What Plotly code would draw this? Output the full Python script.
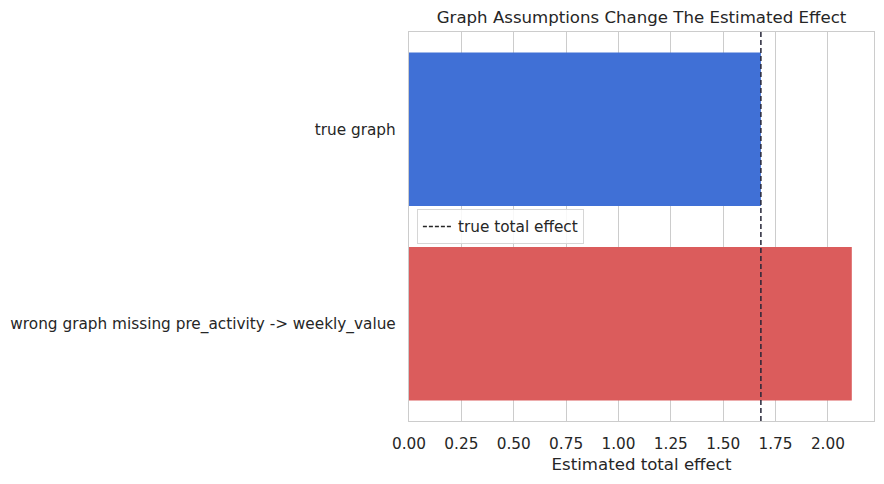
import plotly.graph_objects as go

# Estimated effects under each graph assumption
graphs = ["true graph", "wrong graph missing pre_activity -> weekly_value"]
effects = [1.68, 2.114]
bar_colors = ["#4070d6", "#db5c5c"]
true_effect = 1.68

fig = go.Figure()

fig.add_trace(
    go.Bar(
        x=effects,
        y=graphs,
        orientation="h",
        marker=dict(color=bar_colors, line=dict(width=0)),
        width=0.79,
        showlegend=False,
    )
)

# dummy trace so the dashed reference line gets a legend entry
fig.add_trace(
    go.Scatter(
        x=[None], y=[None],
        mode="lines",
        line=dict(color="#262626", width=1.5, dash="4px,2px"),
        name="true total effect",
    )
)

fig.add_shape(
    type="line",
    x0=true_effect, x1=true_effect,
    y0=0, y1=1, yref="paper",
    line=dict(color="#262638", width=1.5, dash="5px,3px"),
)

# page body adds an 8px offset, so the figure is 8px smaller each way
fig.update_layout(
    width=876,
    height=476,
    margin=dict(l=401, r=10, t=24, b=63),
    paper_bgcolor="white",
    plot_bgcolor="white",
    font=dict(family="DejaVu Sans", size=15.3, color="#262626"),
    title=dict(
        text="Graph Assumptions Change The Estimated Effect",
        x=(401 + 866) / 2 / 876,
        xanchor="center",
        y=1 - 9 / 476,
        yanchor="middle",
        font=dict(size=16.6),
    ),
    legend=dict(
        x=0.017, y=0.545,
        xanchor="left", yanchor="top",
        bgcolor="rgba(255,255,255,0.85)",
        bordercolor="#d6d6d6",
        borderwidth=1,
        font=dict(size=15.3),
    ),
    bargap=0.2,
)

fig.update_xaxes(
    range=[0, 2.22],
    dtick=0.25,
    tick0=0,
    tickformat=".2f",
    showgrid=True,
    gridcolor="#cccccc",
    gridwidth=1,
    zeroline=False,
    showline=True,
    linecolor="#cccccc",
    linewidth=1.3,
    mirror=True,
    ticks="",
    automargin=False,
    ticklabelstandoff=8,
    title=dict(text="Estimated total effect", font=dict(size=16.6), standoff=6),
)

fig.update_yaxes(
    autorange="reversed",
    showgrid=False,
    zeroline=False,
    showline=True,
    linecolor="#cccccc",
    linewidth=1.3,
    mirror=True,
    ticks="",
    automargin=False,
    ticklabelstandoff=9,
)

fig.write_html("out.html")
